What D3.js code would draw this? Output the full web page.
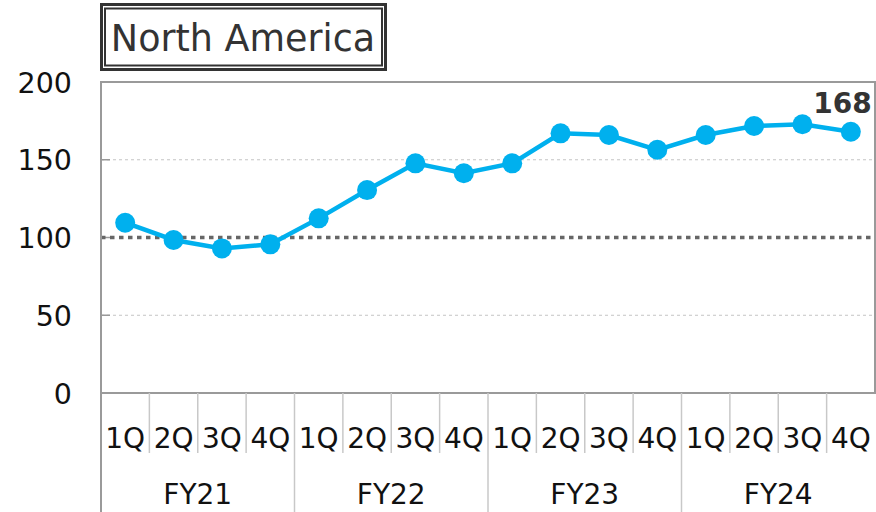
<!DOCTYPE html>
<html>
<head>
<meta charset="utf-8">
<script src="https://cdn.jsdelivr.net/npm/d3@7"></script>
<style>
  body { margin: 0; background: #fff; }
  text { font-family: "DejaVu Sans", Verdana, sans-serif; }
</style>
</head>
<body>
<div id="chart"></div>
<script>
// Chart data
const title = "North America";
const years = ["FY21", "FY22", "FY23", "FY24"];
const quarters = ["1Q", "2Q", "3Q", "4Q"];
const values = [109.5, 98.4, 93.0, 95.6, 112.3, 130.5, 147.7, 141.3, 147.7, 167.0, 165.9, 156.4, 165.9, 171.7, 172.8, 168.0];
const yTicks = [0, 50, 100, 150, 200];
const baseline = 100;
const lastLabel = "168";

// Dimensions
const W = 876, H = 512;
const m = { left: 101, right: 875, top: 82, bottom: 393 };

const svg = d3.select("#chart").append("svg").attr("width", W).attr("height", H);

// Category keys (year + quarter)
const cats = [];
years.forEach(y => quarters.forEach(q => cats.push(y + "-" + q)));

// Scales
const x = d3.scaleBand().domain(cats).range([m.left, m.right]);
const y = d3.scaleLinear().domain([0, 200]).range([m.bottom, m.top]);

// Grid lines (dashed light grey)
svg.append("g").selectAll("line").data(yTicks.filter(d => d != 0 && d != 200 && d != baseline)).enter()
  .append("line")
  .attr("x1", m.left).attr("x2", m.right)
  .attr("y1", d => y(d)).attr("y2", d => y(d))
  .attr("stroke", "#c4c4c4").attr("stroke-width", 1).attr("stroke-dasharray", "3,3");

// Inner tick marks
svg.append("g").selectAll("line").data(yTicks).enter()
  .append("line")
  .attr("x1", m.left).attr("x2", m.left + 9)
  .attr("y1", d => y(d)).attr("y2", d => y(d))
  .attr("stroke", "#999").attr("stroke-width", 1.5);

// Baseline at 100 (dotted)
svg.append("line")
  .attr("x1", m.left).attr("x2", m.right)
  .attr("y1", y(baseline)).attr("y2", y(baseline))
  .attr("stroke", "#666").attr("stroke-width", 3.5).attr("stroke-dasharray", "4.5,4.5");

// Plot border
svg.append("rect")
  .attr("x", m.left).attr("y", m.top)
  .attr("width", m.right - m.left).attr("height", m.bottom - m.top)
  .attr("fill", "none").attr("stroke", "#9a9a9a").attr("stroke-width", 2);

// Y axis labels
svg.append("g").selectAll("text").data(yTicks).enter()
  .append("text")
  .attr("x", 72).attr("y", d => y(d)).attr("dy", "0.37em")
  .attr("text-anchor", "end")
  .attr("font-size", 28.5).attr("fill", "#111")
  .text(d => d);

// Category axis: quarter separators
svg.append("g").selectAll("line").data(cats.slice(1)).enter()
  .append("line")
  .attr("x1", d => x(d)).attr("x2", d => x(d))
  .attr("y1", m.bottom).attr("y2", d => d.endsWith("1Q") ? H : 453)
  .attr("stroke", "#c8c8c8").attr("stroke-width", 1.5);
// Left edge extends down
svg.append("line")
  .attr("x1", m.left).attr("x2", m.left)
  .attr("y1", m.bottom).attr("y2", H)
  .attr("stroke", "#9a9a9a").attr("stroke-width", 2);

// Quarter labels
svg.append("g").selectAll("text").data(cats).enter()
  .append("text")
  .attr("x", d => x(d) + x.bandwidth() / 2).attr("y", 448)
  .attr("text-anchor", "middle")
  .attr("font-size", 28).attr("fill", "#111")
  .text(d => d.split("-")[1]);

// Year labels
svg.append("g").selectAll("text").data(years).enter()
  .append("text")
  .attr("x", d => x(d + "-1Q") + x.bandwidth() * 2).attr("y", 504)
  .attr("text-anchor", "middle")
  .attr("font-size", 28).attr("fill", "#111")
  .text(d => d);

// Line series
const line = d3.line().x((d, i) => x(cats[i]) + x.bandwidth() / 2).y(d => y(d));
svg.append("path").datum(values)
  .attr("d", line)
  .attr("fill", "none").attr("stroke", "#00b0ee").attr("stroke-width", 4.5);

svg.append("g").selectAll("circle").data(values).enter()
  .append("circle")
  .attr("cx", (d, i) => x(cats[i]) + x.bandwidth() / 2)
  .attr("cy", d => y(d))
  .attr("r", 10)
  .attr("fill", "#00b0ee");

// Last value label
svg.append("text")
  .attr("x", x(cats[cats.length - 1]) + x.bandwidth() / 2 + 21).attr("y", y(values[values.length - 1]) - 19)
  .attr("text-anchor", "end")
  .attr("font-size", 28).attr("font-weight", "bold").attr("fill", "#333")
  .text(lastLabel);

// Title box with double border
svg.append("rect").attr("x", 101.5).attr("y", 4.5).attr("width", 284).attr("height", 65)
  .attr("fill", "#fff").attr("stroke", "#333").attr("stroke-width", 3);
svg.append("rect").attr("x", 105).attr("y", 8.5).attr("width", 277).attr("height", 57)
  .attr("fill", "none").attr("stroke", "#333").attr("stroke-width", 2);
svg.append("text")
  .attr("x", 243).attr("y", 51)
  .attr("text-anchor", "middle")
  .attr("font-size", 36.5).attr("fill", "#333")
  .text(title);
</script>
</body>
</html>
